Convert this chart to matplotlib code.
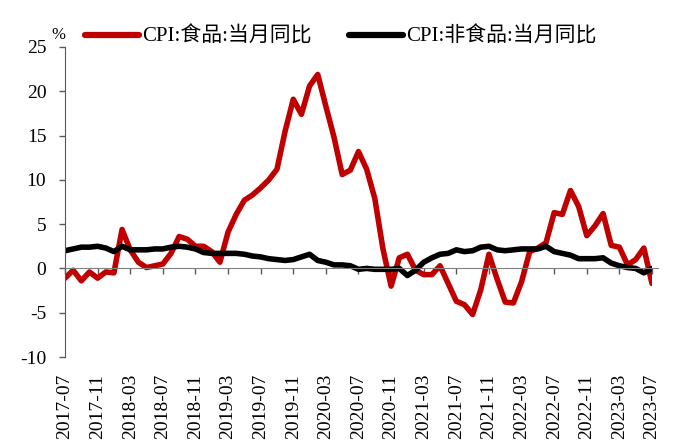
import matplotlib
matplotlib.use("Agg")
import matplotlib.pyplot as plt
import numpy as np

months = [f"{y}-{m:02d}" for y in range(2017, 2024) for m in range(1, 13)]
months = months[months.index("2017-07"):months.index("2023-07") + 1]

food = [-1.1, -0.2, -1.4, -0.4, -1.1, -0.4,
        -0.5, 4.4, 2.1, 0.7, 0.1, 0.3, 0.5, 1.7, 3.6, 3.3, 2.5, 2.5,
        1.9, 0.7, 4.1, 6.1, 7.7, 8.3, 9.1, 10.0, 11.2, 15.5, 19.1, 17.4,
        20.6, 21.9, 18.3, 14.8, 10.6, 11.1, 13.2, 11.2, 7.9, 2.2, -2.0, 1.2,
        1.6, -0.2, -0.7, -0.7, 0.3, -1.7, -3.7, -4.1, -5.2, -2.4, 1.6, -1.2,
        -3.8, -3.9, -1.5, 1.9, 2.3, 2.9, 6.3, 6.1, 8.8, 7.0, 3.7, 4.8,
        6.2, 2.6, 2.4, 0.4, 1.0, 2.3, -1.7]
nonfood = [2.0, 2.2, 2.4, 2.4, 2.5, 2.3,
           1.9, 2.5, 2.1, 2.1, 2.1, 2.2, 2.2, 2.4, 2.5, 2.4, 2.2, 1.8,
           1.7, 1.7, 1.7, 1.7, 1.6, 1.4, 1.3, 1.1, 1.0, 0.9, 1.0, 1.3,
           1.6, 0.9, 0.7, 0.4, 0.4, 0.3, -0.1, 0.0, -0.1, -0.1, -0.1, 0.0,
           -0.8, -0.2, 0.7, 1.2, 1.6, 1.7, 2.1, 1.9, 2.0, 2.4, 2.5, 2.1,
           2.0, 2.1, 2.2, 2.2, 2.2, 2.5, 1.9, 1.7, 1.5, 1.1, 1.1, 1.1,
           1.2, 0.6, 0.3, 0.1, 0.0, -0.5, 0.0]
labels = ["CPI:食品:当月同比", "CPI:非食品:当月同比"]
yticks = [-10, -5, 0, 5, 10, 15, 20, 25]

plt.rcParams['font.family'] = ['Liberation Serif', 'Noto Sans CJK SC']
plt.rcParams['axes.unicode_minus'] = False

fig = plt.figure(figsize=(6.76, 4.47), dpi=100)
ax = fig.add_axes([65/676, 1-357/447, (652-65)/676, (357-47)/447])
x = np.arange(len(months))
ax.plot(x, food, color='#C00000', lw=4.0, label=labels[0], solid_capstyle='round', solid_joinstyle='round')
ax.plot(x, nonfood, color='#000000', lw=4.0, label=labels[1], solid_capstyle='round', solid_joinstyle='round')

ax.set_xlim(0, len(months) - 1)
ax.set_ylim(-10, 25)
ax.set_yticks(yticks)
ax.set_yticklabels([str(v) for v in yticks], fontsize=14)
ax.tick_params(axis='y', direction='out', length=4.5, width=1, color='#595959', pad=9)

for s in ['top', 'right']:
    ax.spines[s].set_visible(False)
ax.spines['left'].set_color('#595959')
ax.spines['bottom'].set_position(('data', 0))
ax.spines['bottom'].set_color('#808080')
ax.spines['bottom'].set_bounds(0, len(months) - 0.3)
tick_pos = x[::4]
ax.set_xticks(tick_pos)
ax.tick_params(axis='x', direction='out', length=4, width=1, color='#595959', labelbottom=False)

sec = ax.secondary_xaxis(location=0.0)
sec.spines['bottom'].set_visible(False)
sec.set_xticks(tick_pos)
sec.set_xticklabels([months[i] for i in tick_pos], rotation=90, fontsize=14)
sec.tick_params(axis='x', length=0, pad=12)

ax.text(-0.8, 25.4, '%', fontsize=12, ha='center', va='bottom')

leg = ax.legend(loc='lower left', bbox_to_anchor=(20/587, 1.0), ncol=2, frameon=False,
                fontsize=15, handlelength=2.6, handletextpad=0.15, columnspacing=1.8,
                borderaxespad=0, borderpad=0)
for line in leg.get_lines():
    line.set_linewidth(4.5)
for t in leg.get_texts():
    t.set_family(['Liberation Serif', 'Noto Sans CJK SC'])

fig.savefig('out.png', dpi=100)
